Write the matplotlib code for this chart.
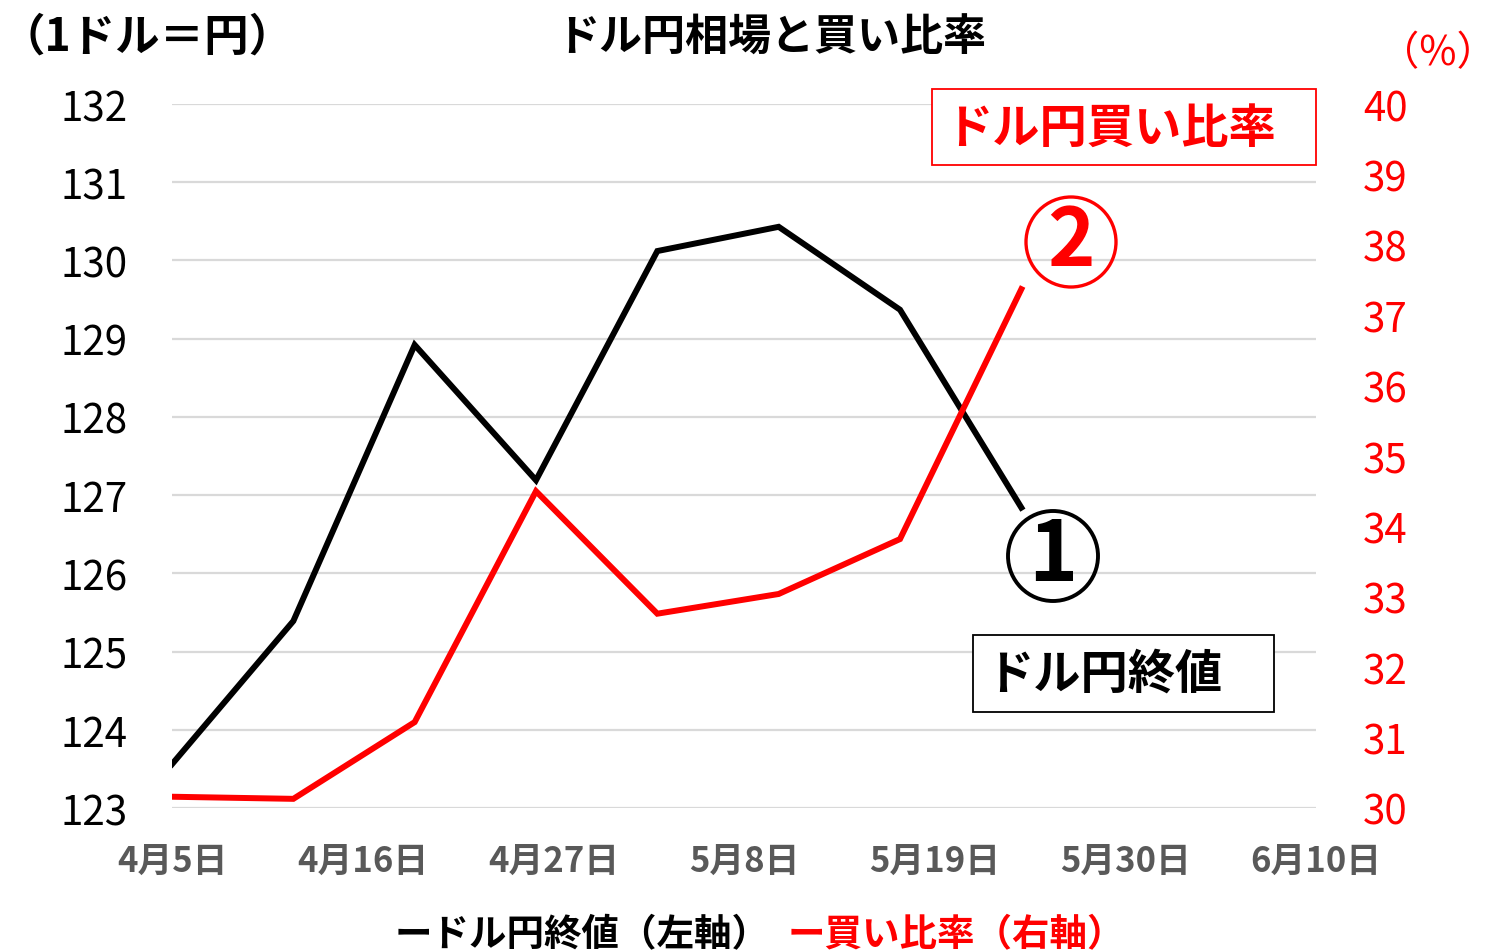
import datetime as dt
import matplotlib
matplotlib.use("Agg")
import matplotlib.pyplot as plt
from matplotlib.patches import Rectangle, Ellipse

plt.rcParams['font.family'] = ['Noto Sans CJK JP', 'DejaVu Sans']

# weekly data points
dates = [dt.date(2022, 4, 5) + dt.timedelta(days=7 * i) for i in range(8)]
usdjpy_close = [123.56, 125.39, 128.92, 127.19, 130.12, 130.43, 129.37, 126.84]
buy_ratio = [30.16, 30.13, 31.22, 34.50, 32.76, 33.04, 33.82, 37.37]

tick_dates = [dt.date(2022, 4, 5) + dt.timedelta(days=11 * i) for i in range(7)]
tick_labels = ['4月5日', '4月16日', '4月27日', '5月8日', '5月19日', '5月30日', '6月10日']
left_ticks = list(range(123, 133))
right_ticks = list(range(30, 41))

W, H = 1497, 953
fig = plt.figure(figsize=(W / 100, H / 100), dpi=100)


def fx(px):
    return px / W


def fy(py):
    return 1 - py / H


ax = fig.add_axes([fx(172), fy(809), (1316 - 172) / W, (809 - 105) / H])
ax2 = ax.twinx()

ax.plot(dates, usdjpy_close, color='black', lw=4.3, solid_joinstyle='miter', zorder=3)
ax2.plot(dates, buy_ratio, color='#ff0000', lw=4.3, solid_joinstyle='miter', zorder=3)

ax.set_xlim(dt.date(2022, 4, 5), dt.date(2022, 6, 10))
ax.set_ylim(123, 132)
ax2.set_ylim(30, 40)
ax.set_xticks(tick_dates)
ax.set_xticklabels(tick_labels, color='#595959', fontsize=25, fontweight='bold')
ax.set_yticks(left_ticks)
ax.set_yticklabels([str(v) for v in left_ticks], fontsize=29)
ax2.set_yticks(right_ticks)
ax2.set_yticklabels([str(v) for v in right_ticks], fontsize=29, color='#ff0000')
ax.tick_params(axis='x', length=0, pad=25)
ax.tick_params(axis='y', length=0, pad=32)
ax2.tick_params(axis='y', length=0, pad=34)
ax.grid(axis='y', color='#d9d9d9', lw=1.6)
ax.set_axisbelow(True)
for a in (ax, ax2):
    for s in a.spines.values():
        s.set_visible(False)

# titles and unit labels
fig.text(fx(771), fy(38), 'ドル円相場と買い比率', ha='center', va='center',
         fontsize=31, fontweight='bold')
fig.text(fx(1), fy(38), '（1ドル＝円）', ha='left', va='center',
         fontsize=32, fontweight='bold')
fig.text(fx(1438), fy(54), '（%）', ha='center', va='center',
         fontsize=29, color='#ff0000')

# annotation boxes
fig.add_artist(Rectangle((fx(932), fy(166)), (1316 - 932) / W, (166 - 90) / H,
                         transform=fig.transFigure, fc='white', ec='#ff0000', lw=1.3))
fig.text(fx(1110), fy(129), 'ドル円買い比率', ha='center', va='center',
         fontsize=34, fontweight='bold', color='#ff0000')
fig.add_artist(Rectangle((fx(973), fy(713)), (1274 - 973) / W, (713 - 636) / H,
                         transform=fig.transFigure, fc='white', ec='black', lw=1.3))
fig.text(fx(1104), fy(675), 'ドル円終値', ha='center', va='center',
         fontsize=34, fontweight='bold', color='black')

# circled markers
fig.add_artist(Ellipse((fx(1071), fy(243)), 90 / W, 90 / H, transform=fig.transFigure,
                       fc='none', ec='#ff0000', lw=2.4))
fig.text(fx(1071), fy(243), '2', ha='center', va='center',
         fontsize=58, fontweight='bold', color='#ff0000')
fig.add_artist(Ellipse((fx(1053), fy(557)), 90 / W, 90 / H, transform=fig.transFigure,
                       fc='none', ec='black', lw=2.8))
fig.text(fx(1053), fy(557), '1', ha='center', va='center',
         fontsize=60, fontweight='bold', color='black')

# legend
fig.text(fx(770), fy(935), 'ードル円終値（左軸）', ha='right', va='center',
         fontsize=27, fontweight='bold', color='black')
fig.text(fx(788), fy(935), 'ー買い比率（右軸）', ha='left', va='center',
         fontsize=27, fontweight='bold', color='#ff0000')

fig.savefig('out.png', dpi=100)
